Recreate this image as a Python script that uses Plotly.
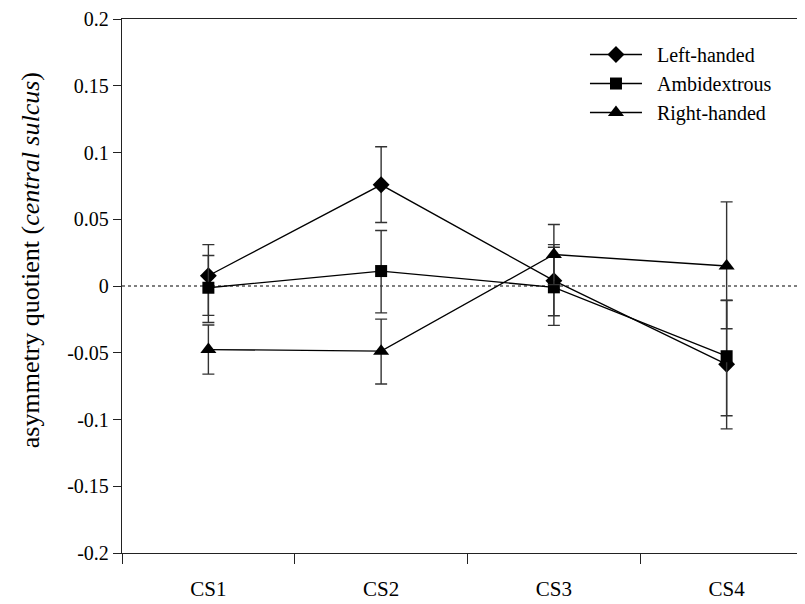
import plotly.graph_objects as go

categories = ["CS1", "CS2", "CS3", "CS4"]

left_y = [0.0077, 0.0758, 0.0040, -0.0587]
left_plus = [0.0233, 0.0285, 0.0270, 0.0480]
left_minus = [0.0297, 0.0282, 0.0263, 0.0483]

ambi_y = [-0.0013, 0.0112, -0.0010, -0.0526]
ambi_plus = [0.0241, 0.0304, 0.0300, 0.0417]
ambi_minus = [0.0260, 0.0313, 0.0285, 0.0446]

right_y = [-0.0476, -0.0488, 0.0236, 0.0150]
right_plus = [0.0184, 0.0240, 0.0225, 0.0480]
right_minus = [0.0184, 0.0246, 0.0226, 0.0470]

y_ticks = [0.2, 0.15, 0.1, 0.05, 0, -0.05, -0.1, -0.15, -0.2]
y_ticktext = ["0.2", "0.15", "0.1", "0.05", "0", "-0.05", "-0.1", "-0.15", "-0.2"]

FONT = "Times New Roman, Liberation Serif, DejaVu Serif, serif"

fig = go.Figure()

series = [
    ("Left-handed", left_y, left_plus, left_minus, "diamond", 13),
    ("Ambidextrous", ambi_y, ambi_plus, ambi_minus, "square", 12),
    ("Right-handed", right_y, right_plus, right_minus, "triangle-up", 14),
]

# zero reference line
fig.add_hline(y=0, line=dict(color="black", width=1.2, dash="dot"), layer="below")

for name, ys, plus, minus, sym, size in series:
    fig.add_trace(go.Scatter(
        x=categories, y=ys, name="&nbsp;&nbsp;" + name, mode="lines+markers",
        line=dict(color="black", width=1.3),
        marker=dict(symbol=sym, size=size, color="black"),
        error_y=dict(type="data", symmetric=False, array=plus, arrayminus=minus,
                     color="#333333", thickness=1.4, width=6),
    ))

fig.update_layout(
    width=805, height=604,
    margin=dict(l=114, r=0, t=9, b=59),
    plot_bgcolor="white", paper_bgcolor="white",
    font=dict(family=FONT, color="black", size=18),
    showlegend=True,
    legend=dict(x=0.670, y=0.970, xanchor="left", yanchor="top",
                bgcolor="rgba(0,0,0,0)", font=dict(family=FONT, size=20),
                itemwidth=52),
    xaxis=dict(
        type="category", range=[-0.5, 3.5],
        showline=True, linecolor="#222", linewidth=1.3, mirror=True,
        ticks="outside", ticklen=10, tickcolor="#222", tickwidth=1.3,
        tickson="boundaries", showgrid=False, zeroline=False,
        tickfont=dict(family=FONT, size=21), ticklabelstandoff=17,
    ),
    yaxis=dict(
        range=[-0.2, 0.2], tickvals=y_ticks, ticktext=y_ticktext,
        showline=True, linecolor="#222", linewidth=1.3,
        ticks="outside", ticklen=8, tickcolor="#222", tickwidth=1.3,
        showgrid=False, zeroline=False, ticklabeloverflow="allow",
        tickfont=dict(family=FONT, size=20),
    ),
)

fig.add_annotation(
    text="asymmetry quotient (<i>central sulcus</i>)",
    xref="paper", yref="paper", x=-0.133, y=(553 - 259) / 536,
    xanchor="center", yanchor="middle", textangle=-90, showarrow=False,
    font=dict(family=FONT, size=26, color="black"),
)

fig.write_html("out.html")
